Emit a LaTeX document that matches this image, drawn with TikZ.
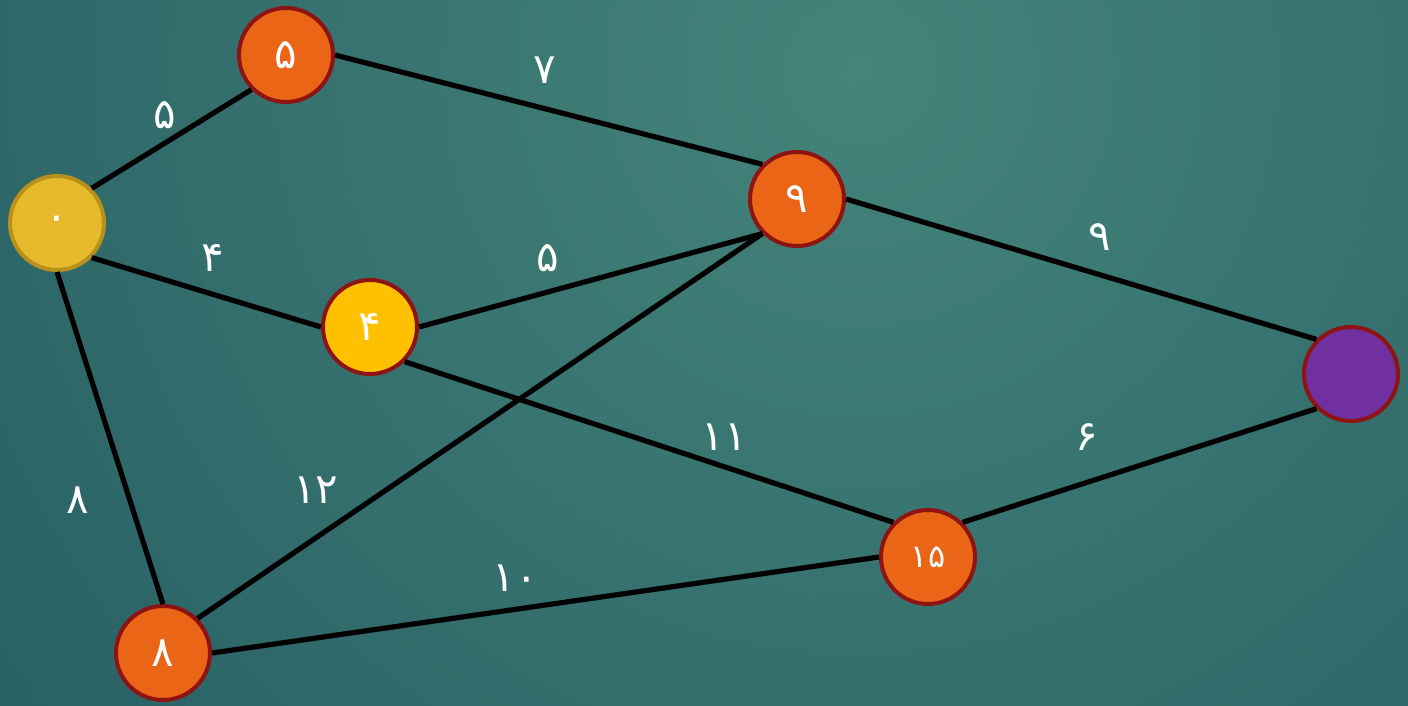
\documentclass[tikz,border=0pt]{standalone}
\usepackage{fontspec}
\newfontfamily\fanum[Script=Arabic]{DejaVu Sans}
\begin{document}
\begin{tikzpicture}[x=0.5pt,y=-0.5pt,
  vertex/.style={circle,minimum size=47pt,inner sep=0pt,line width=2pt,draw=vborder,
    text=white,font=\fanum\fontsize{21}{21}\selectfont},
  orangev/.style={vertex,fill=vorange},
  edge/.style={line width=2.6pt,black},
  wlabel/.style={text=white,font=\fanum\fontsize{21}{21}\selectfont,inner sep=0pt}]
\definecolor{bglight}{HTML}{44847A}
\definecolor{bgdark}{HTML}{1E525C}
\definecolor{vborder}{HTML}{8E1414}
\definecolor{vorange}{HTML}{EA6516}
\definecolor{vyellow}{HTML}{FFC000}
\definecolor{vgold}{HTML}{E6BA2C}
\definecolor{vgoldborder}{HTML}{B8911C}
\definecolor{vpurple}{HTML}{7030A0}

% background
\useasboundingbox (0,0) rectangle (1408,706);
\begin{scope}
  \clip (0,0) rectangle (1408,706);
  \fill[bgdark] (0,0) rectangle (1408,706);
  \shade[inner color=bglight,outer color=bgdark] (860,70) circle (1500);
\end{scope}

% vertices
\node[vertex,fill=vgold,draw=vgoldborder] (a) at (57,223) {۰};
\node[orangev] (b) at (286,55) {۵};
\node[vertex,fill=vyellow] (c) at (370,327) {۴};
\node[orangev] (d) at (797,199) {۹};
\node[orangev,font=\fanum\fontsize{16}{16}\selectfont] (e) at (928,557) {۱۵};
\node[vertex,fill=vpurple] (f) at (1351,374) {};
\node[orangev] (g) at (163,653) {۸};

% edges
\draw[edge] (a.north east) -- (b.south west);
\draw[edge] (b.east) -- (d.north west);
\draw[edge] (d.east) -- (f.north west);
\draw[edge] (a.south east) -- (c.west);
\draw[edge] (c.east) -- (d.south west);
\draw[edge] (a.south) -- (g.north);
\draw[edge] (c.south east) -- (e.north west);
\draw[edge] (g.north east) -- (d.south west);
\draw[edge] (g.east) -- (e.west);
\draw[edge] (e.north east) -- (f.south west);

% weights
\node[wlabel] (w1) at (165,115) {۵};
\node[wlabel] (w2) at (545,70) {۷};
\node[wlabel] (w3) at (1100,237) {۹};
\node[wlabel] (w4) at (213,258) {۴};
\node[wlabel] (w5) at (548,258) {۵};
\node[wlabel] (w6) at (78,500) {۸};
\node[wlabel] (w7) at (316,490) {۱۲};
\node[wlabel] (w8) at (724,437) {۱۱};
\node[wlabel] (w9) at (515,578) {۱۰};
\node[wlabel] (w10) at (1087,437) {۶};
\end{tikzpicture}
\end{document}
